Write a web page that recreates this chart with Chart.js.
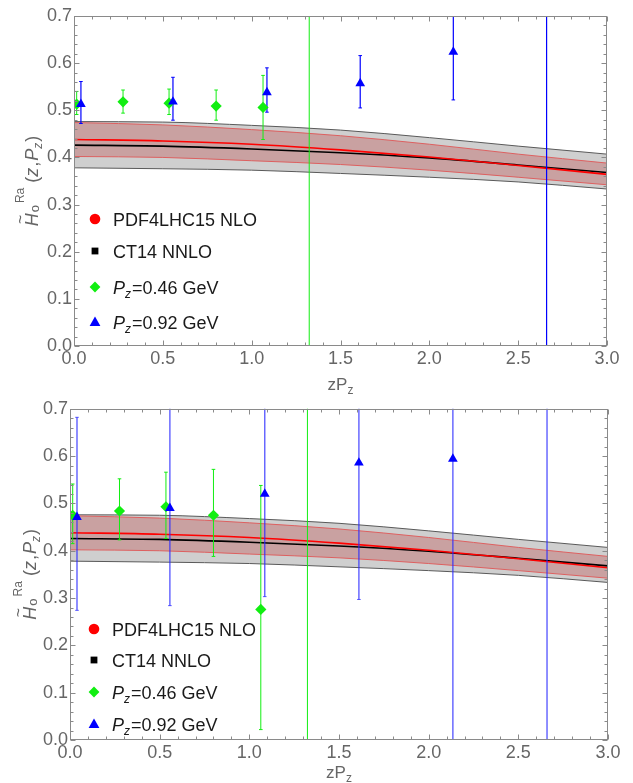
<!DOCTYPE html>
<html>
<head>
<meta charset="utf-8">
<script src="https://cdn.jsdelivr.net/npm/chart.js@4.4.1/dist/chart.umd.min.js"></script>
<style>
  body { margin: 0; background: #fff; }
  canvas { position: absolute; left: 0; }
</style>
</head>
<body>
<canvas id="topChart" width="633" height="396" style="top:0px"></canvas>
<canvas id="bottomChart" width="633" height="387" style="top:396px"></canvas>
<script>
// axis ticks
const xTickValues = [0, 0.5, 1.0, 1.5, 2.0, 2.5, 3.0];
const xTickLabels = ["0.0", "0.5", "1.0", "1.5", "2.0", "2.5", "3.0"];
const yTickValues = [0, 0.1, 0.2, 0.3, 0.4, 0.5, 0.6, 0.7];
const yTickLabels = ["0.0", "0.1", "0.2", "0.3", "0.4", "0.5", "0.6", "0.7"];

// PDF bands (same in both panels)
const curveX = [0, 0.5, 1.0, 1.5, 2.0, 2.5, 3.0];
const ct14Mid = [0.426, 0.424, 0.418, 0.410, 0.399, 0.384, 0.368];
const ct14Upper = [0.476, 0.475, 0.468, 0.458, 0.442, 0.424, 0.407];
const ct14Lower = [0.378, 0.376, 0.373, 0.366, 0.358, 0.348, 0.333];
const pdfMid = [0.438, 0.435, 0.428, 0.416, 0.401, 0.383, 0.364];
const pdfUpper = [0.474, 0.469, 0.459, 0.446, 0.428, 0.407, 0.388];
const pdfLower = [0.402, 0.400, 0.393, 0.385, 0.373, 0.358, 0.342];

// lattice points
const greenX = [0.015, 0.276, 0.535, 0.800, 1.064, 1.324];
const blueX = [0.039, 0.557, 1.086, 1.611, 2.135, 2.660];

// top panel
const topGreenY = [0.513, 0.518, 0.515, 0.509, 0.506, 0.95];
const topGreenLo = [0.491, 0.494, 0.491, 0.479, 0.438, -1.0];
const topGreenHi = [0.540, 0.543, 0.545, 0.543, 0.574, 3.0];
const topBlueY = [0.513, 0.518, 0.538, 0.557, 0.624, 0.95];
const topBlueLo = [0.472, 0.479, 0.496, 0.505, 0.522, -1.0];
const topBlueHi = [0.561, 0.570, 0.590, 0.616, 0.780, 3.0];

// bottom panel
const botGreenY = [0.475, 0.484, 0.493, 0.475, 0.276, 0.95];
const botGreenLo = [0.415, 0.423, 0.426, 0.388, 0.022, -1.0];
const botGreenHi = [0.541, 0.552, 0.566, 0.572, 0.538, 3.0];
const botBlueY = [0.471, 0.490, 0.520, 0.586, 0.594, 0.95];
const botBlueLo = [0.274, 0.284, 0.303, 0.297, -0.30, -1.0];
const botBlueHi = [0.682, 0.900, 0.900, 0.900, 1.200, 3.0];

const legendLabels = ["PDF4LHC15 NLO", "CT14 NNLO", "=0.46 GeV", "=0.92 GeV"];

const FONT = '"Liberation Sans", Arial, sans-serif';
const GREEN = "#11ee11";
const BLUE = "#0000ff";

function pts(xa, ya) {
	return xa.map((x, i) => ({ x: x, y: ya[i] }));
}

function curve(ya, color, width, fill, bg, order) {
	return {
		type: "line",
		data: pts(curveX, ya),
		borderColor: color,
		borderWidth: width,
		backgroundColor: bg || "transparent",
		fill: fill,
		pointRadius: 0,
		cubicInterpolationMode: "monotone",
		order: order,
	};
}

function errorBars(xa, lo, hi, color, width) {
	return xa.map((x, i) => ({
		type: "line",
		data: [{ x: x, y: lo[i] }, { x: x, y: hi[i] }],
		borderColor: color,
		borderWidth: width,
		pointStyle: "line",
		pointRadius: 1.8,
		pointBorderColor: color,
		pointBorderWidth: 1,
		fill: false,
		order: 2,
	}));
}

// frame with inward ticks on all four sides
const framePlugin = {
	id: "frame",
	afterDraw(chart) {
		const ctx = chart.ctx;
		const a = chart.chartArea;
		const sx = chart.scales.x;
		const sy = chart.scales.y;
		ctx.save();
		ctx.strokeStyle = "#8a8a8a";
		ctx.lineWidth = 1;
		const L = Math.round(a.left) + 0.5, R = Math.round(a.right) - 0.5;
		const T = Math.round(a.top) + 0.5, B = Math.round(a.bottom) - 0.5;
		ctx.strokeRect(L, T, R - L, B - T);
		ctx.beginPath();
		for (let k = 0; k <= 30; k++) {
			const px = Math.round(sx.getPixelForValue(k / 10)) + 0.5;
			const len = k % 5 === 0 ? 5 : 3;
			ctx.moveTo(px, B); ctx.lineTo(px, B - len);
			ctx.moveTo(px, T); ctx.lineTo(px, T + len);
		}
		for (let k = 0; k <= 35; k++) {
			const py = Math.round(sy.getPixelForValue(k * 0.02)) + 0.5;
			const len = k % 5 === 0 ? 5 : 3;
			ctx.moveTo(L, py); ctx.lineTo(L + len, py);
			ctx.moveTo(R, py); ctx.lineTo(R - len, py);
		}
		ctx.stroke();
		ctx.restore();
	},
};

// rich text pieces drawn in a row
function drawPieces(ctx, parts, x0, y0) {
	let x = x0;
	parts.forEach((p) => {
		x += p.gap || 0;
		ctx.font = p.f;
		ctx.fillText(p.t, x, y0 + (p.dy || 0));
		p.x = x;
		x += ctx.measureText(p.t).width;
	});
	return x;
}

function piecesWidth(ctx, parts) {
	let w = 0;
	parts.forEach((p) => {
		ctx.font = p.f;
		w += ctx.measureText(p.t).width + (p.gap || 0);
	});
	return w;
}

const titlePlugin = {
	id: "titles",
	afterDraw(chart, args, opts) {
		const ctx = chart.ctx;
		const a = chart.chartArea;
		ctx.save();
		ctx.fillStyle = "#666";
		ctx.textAlign = "left";
		ctx.textBaseline = "alphabetic";

		// x title: zP_z
		const xp = [
			{ t: "zP", f: "17px " + FONT },
			{ t: "z", f: "12px " + FONT, dy: 4 },
		];
		const xw = piecesWidth(ctx, xp);
		drawPieces(ctx, xp, (a.left + a.right) / 2 - xw / 2, a.bottom + opts.xTitleGap);

		// y title: H~_o^Ra (z,P_z), rotated
		ctx.translate(opts.yTitleX, (a.top + a.bottom) / 2);
		ctx.rotate(-Math.PI / 2);
		const yp = [
			{ t: "H", f: "italic 18px " + FONT },
			{ t: "o", f: "13px " + FONT, dy: 1, gap: 1 },
			{ t: "Ra", f: "12px " + FONT, dy: -14, gap: 2 },
			{ t: "(", f: "18px " + FONT, gap: 5 },
			{ t: "z", f: "italic 18px " + FONT },
			{ t: ",", f: "18px " + FONT, gap: 1 },
			{ t: "P", f: "italic 18px " + FONT, gap: 1 },
			{ t: "z", f: "italic 12px " + FONT, dy: 4 },
			{ t: ")", f: "18px " + FONT, gap: 1 },
		];
		const yw = piecesWidth(ctx, yp);
		drawPieces(ctx, yp, -yw / 2, 0);
		ctx.font = "16px " + FONT;
		ctx.textAlign = "center";
		ctx.fillText("~", yp[0].x + 7, -12);
		ctx.restore();
	},
};

const legendPlugin = {
	id: "insideLegend",
	afterDraw(chart, args, opts) {
		const ctx = chart.ctx;
		const mx = opts.markerX, tx = opts.textX, ys = opts.rows;
		ctx.save();
		// markers
		ctx.fillStyle = "#ff0000";
		ctx.beginPath(); ctx.arc(mx, ys[0], 5.3, 0, Math.PI * 2); ctx.fill();
		ctx.fillStyle = "#000";
		ctx.fillRect(mx - 3.4, ys[1] - 3.4, 6.8, 6.8);
		ctx.fillStyle = GREEN;
		ctx.beginPath();
		ctx.moveTo(mx, ys[2] - 5.4); ctx.lineTo(mx + 5.4, ys[2]);
		ctx.lineTo(mx, ys[2] + 5.4); ctx.lineTo(mx - 5.4, ys[2]);
		ctx.closePath(); ctx.fill();
		ctx.fillStyle = BLUE;
		ctx.beginPath();
		ctx.moveTo(mx, ys[3] - 5.5); ctx.lineTo(mx + 5.4, ys[3] + 4);
		ctx.lineTo(mx - 5.4, ys[3] + 4);
		ctx.closePath(); ctx.fill();

		// labels
		ctx.fillStyle = "#1a1a1a";
		ctx.textBaseline = "alphabetic";
		ctx.textAlign = "left";
		ctx.font = "18px " + FONT;
		ctx.fillText(legendLabels[0], tx, ys[0] + 6.5);
		ctx.fillText(legendLabels[1], tx, ys[1] + 6.5);
		[2, 3].forEach((k) => {
			drawPieces(ctx, [
				{ t: "P", f: "italic 18px " + FONT },
				{ t: "z", f: "italic 12px " + FONT, dy: 4 },
				{ t: legendLabels[k], f: "18px " + FONT, gap: 1 },
			], tx, ys[k] + 6.5);
		});
		ctx.restore();
	},
};

function makeChart(id, g, b, cfg) {
	const datasets = [
		curve(ct14Upper, "#5a5a5a", 1, "+1", "#cfcfcf", 6),
		curve(ct14Lower, "#5a5a5a", 1, false, null, 6),
		curve(pdfUpper, "#dd6060", 1, "+1", "#c9a1a1", 5),
		curve(pdfLower, "#dd6060", 1, false, null, 5),
		curve(ct14Mid, "#000", 1.6, false, null, 4),
		curve(pdfMid, "#ff0000", 1.6, false, null, 3),
	]
		.concat(errorBars(greenX, g.lo, g.hi, GREEN, 1))
		.concat(errorBars(blueX, b.lo, b.hi, cfg.blueBar, cfg.blueBarWidth))
		.concat([
			{
				type: "scatter",
				data: pts(greenX, g.y),
				pointStyle: "rectRot",
				pointRadius: 5.6,
				backgroundColor: GREEN,
				borderColor: GREEN,
				borderWidth: 0,
				order: 1,
			},
			{
				type: "scatter",
				data: pts(blueX, b.y),
				pointStyle: "triangle",
				pointRadius: 5.6,
				backgroundColor: BLUE,
				borderColor: BLUE,
				borderWidth: 0,
				order: 0,
			},
		]);

	new Chart(document.getElementById(id), {
		type: "scatter",
		data: { datasets: datasets },
		plugins: [framePlugin, titlePlugin, legendPlugin],
		options: {
			responsive: false,
			animation: false,
			events: [],
			layout: { padding: { top: cfg.top, right: cfg.right, left: 0, bottom: 0 } },
			scales: {
				x: {
					type: "linear",
					min: 0,
					max: 3,
					grid: { display: false, drawTicks: false },
					border: { display: false },
					afterBuildTicks: (s) => { s.ticks = xTickValues.map((v) => ({ value: v })); },
					afterFit: (s) => { s.height = cfg.xHeight; },
					ticks: {
						color: "#666",
						padding: 2,
						font: { family: FONT, size: 18 },
						callback: (v, i) => xTickLabels[i],
					},
				},
				y: {
					type: "linear",
					min: 0,
					max: 0.7,
					grid: { display: false, drawTicks: false },
					border: { display: false },
					afterBuildTicks: (s) => { s.ticks = yTickValues.map((v) => ({ value: v })); },
					afterFit: (s) => { s.width = cfg.left; },
					ticks: {
						color: "#666",
						padding: 2,
						font: { family: FONT, size: 18 },
						callback: (v, i) => yTickLabels[i],
					},
				},
			},
			plugins: {
				legend: { display: false },
				tooltip: { enabled: false },
				filler: { drawTime: "beforeDatasetsDraw" },
				titles: { xTitleGap: cfg.xTitleGap, yTitleX: cfg.yTitleX },
				insideLegend: { markerX: cfg.markerX, textX: cfg.textX, rows: cfg.rows },
			},
		},
	});
}

makeChart("topChart",
	{ y: topGreenY, lo: topGreenLo, hi: topGreenHi },
	{ y: topBlueY, lo: topBlueLo, hi: topBlueHi },
	{ top: 16, right: 26, left: 74, xHeight: 50, xTitleGap: 44, yTitleX: 38,
	  blueBar: BLUE, blueBarWidth: 1.2,
	  markerX: 95, textX: 113, rows: [219, 251, 287, 322] });

makeChart("bottomChart",
	{ y: botGreenY, lo: botGreenLo, hi: botGreenHi },
	{ y: botBlueY, lo: botBlueLo, hi: botBlueHi },
	{ top: 11, right: 25, left: 70, xHeight: 43, xTitleGap: 38, yTitleX: 36,
	  blueBar: "rgba(40,40,255,0.75)", blueBarWidth: 1.4,
	  markerX: 94, textX: 112, rows: [233, 264, 296, 328] });
</script>
</body>
</html>
